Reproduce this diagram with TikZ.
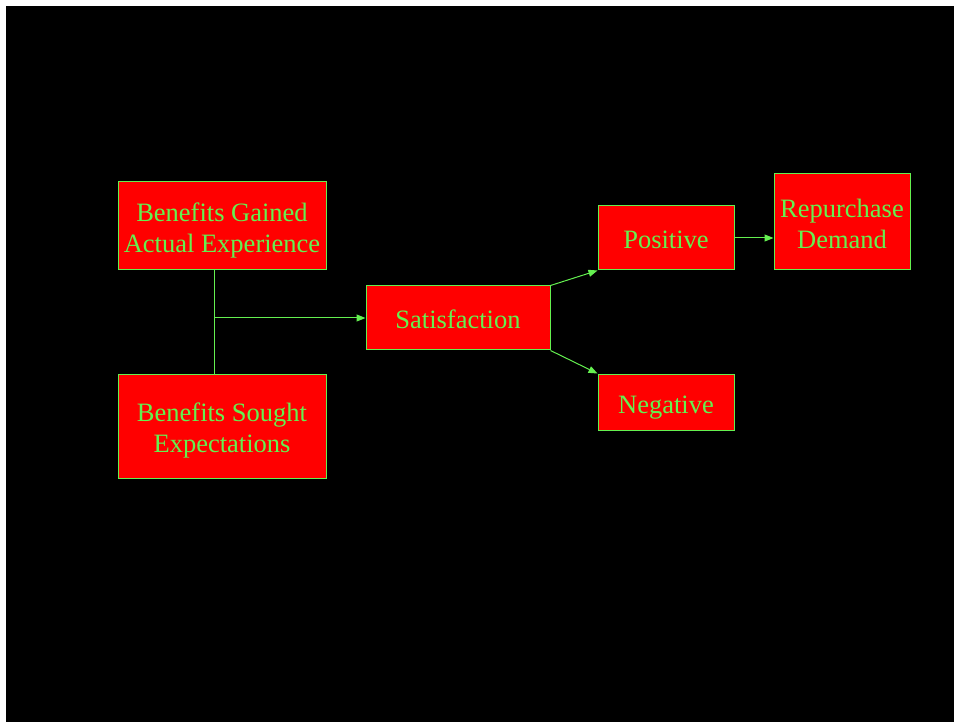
\documentclass[tikz,border=0pt]{standalone}
\usepackage{fontspec}
\setmainfont{Liberation Serif}
\usetikzlibrary{arrows.meta}
\definecolor{lgreen}{RGB}{100,240,80}
\definecolor{bred}{RGB}{255,0,0}
\newcommand\oneline[1]{\raisebox{0pt}[22pt][0pt]{#1}}
\newcommand\twoline[2]{\raisebox{0pt}[22pt][31pt]{\begin{tabular}[t]{@{}c@{}}#1\\#2\end{tabular}}}
\begin{document}
\begin{tikzpicture}[x=1pt,y=-1pt,
  box/.style={draw=lgreen, line width=1pt, fill=bred, text=lgreen, inner sep=0pt,
    font=\fontsize{26.5}{31}\selectfont},
  conn/.style={draw=lgreen, line width=1pt},
  arr/.style={conn, -{Triangle[length=9pt,width=7pt]}}]
\useasboundingbox (0,0) rectangle (954,722);
\fill[white] (0,0) rectangle (954,722);
\fill[black] (6,6) rectangle (954,722);
\node[box, minimum width=208pt, minimum height=88pt] (bg) at (222,226) {\twoline{Benefits Gained}{Actual Experience}};
\node[box, minimum width=208pt, minimum height=104pt] (bs) at (222,426) {\twoline{Benefits Sought}{Expectations}};
\node[box, minimum width=184pt, minimum height=64pt] (sat) at (458,318) {\oneline{Satisfaction}};
\node[box, minimum width=136pt, minimum height=64pt] (pos) at (666,238) {\oneline{Positive}};
\node[box, minimum width=136pt, minimum height=56pt] (neg) at (666,402) {\oneline{Negative}};
\node[box, minimum width=136pt, minimum height=96pt] (rep) at (842,222) {\twoline{Repurchase}{Demand}};
\coordinate (j) at (214,318);
\draw[conn] (j |- bg.south) -- (j |- bs.north);
\draw[arr] (j) -- (sat.west);
\draw[arr] (sat.north east) -- (pos.south west);
\draw[arr] (sat.south east) -- (neg.north west);
\draw[arr] (pos.east) -- (pos.east -| rep.west);
\end{tikzpicture}
\end{document}
